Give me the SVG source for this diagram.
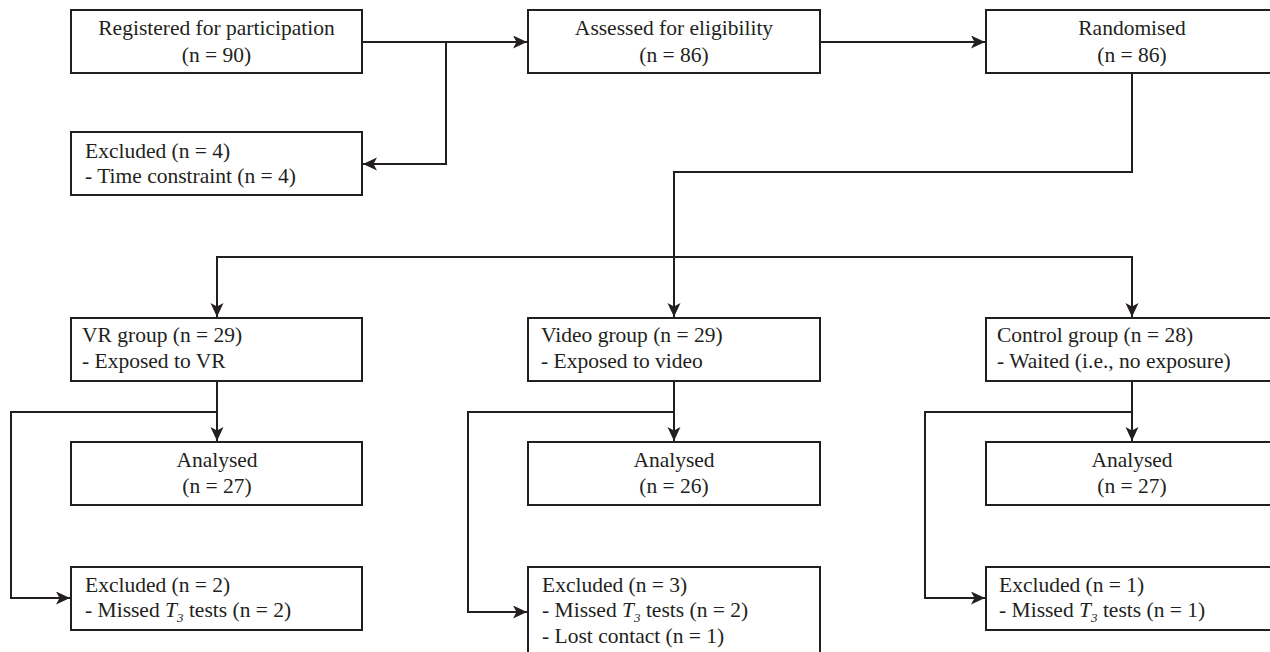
<svg xmlns="http://www.w3.org/2000/svg" width="1270" height="652" viewBox="0 0 1270 652">
<style>
  .box { fill: #ffffff; stroke: #231f20; stroke-width: 2; }
  .t { font-family: "Liberation Serif", "Times New Roman", serif; font-size: 21.5px; fill: #231f20; }
  .c { text-anchor: middle; }
  .conn { fill: none; stroke: #231f20; stroke-width: 2; }
  .sub { font-size: 13px; font-style: italic; }
</style>
<defs>
  <marker id="arr" markerUnits="userSpaceOnUse" markerWidth="16" markerHeight="14" refX="14" refY="6.5" orient="auto">
    <path d="M0,0 L14,6.5 L0,13 L3.5,6.5 Z" fill="#231f20"/>
  </marker>
</defs>
<rect width="1270" height="652" fill="#ffffff"/>

<g id="connectors">
  <path class="conn" d="M362,42 H527" marker-end="url(#arr)"/>
  <path class="conn" d="M446,42 V164 H363" marker-end="url(#arr)"/>
  <path class="conn" d="M820,42 H985" marker-end="url(#arr)"/>
  <path class="conn" d="M1132,73 V172 H674 V317" marker-end="url(#arr)"/>
  <path class="conn" d="M674,257 H217 V317" marker-end="url(#arr)"/>
  <path class="conn" d="M674,257 H1132 V317" marker-end="url(#arr)"/>
  <path class="conn" d="M217,381 V441" marker-end="url(#arr)"/>
  <path class="conn" d="M217,412 H11 V598 H70" marker-end="url(#arr)"/>
  <path class="conn" d="M674,381 V441" marker-end="url(#arr)"/>
  <path class="conn" d="M674,412 H468 V612 H527" marker-end="url(#arr)"/>
  <path class="conn" d="M1132,381 V441" marker-end="url(#arr)"/>
  <path class="conn" d="M1132,412 H925 V598 H985" marker-end="url(#arr)"/>
</g>

<g id="registered">
  <rect class="box" x="71" y="10" width="291" height="63"/>
  <text class="t c" x="216.5" y="35">Registered for participation</text>
  <text class="t c" x="216.5" y="62">(n = 90)</text>
</g>
<g id="assessed">
  <rect class="box" x="528" y="10" width="292" height="63"/>
  <text class="t c" x="674" y="35">Assessed for eligibility</text>
  <text class="t c" x="674" y="62">(n = 86)</text>
</g>
<g id="randomised">
  <rect class="box" x="986" y="10" width="292" height="63"/>
  <text class="t c" x="1132" y="35">Randomised</text>
  <text class="t c" x="1132" y="62">(n = 86)</text>
</g>
<g id="excluded-top">
  <rect class="box" x="71" y="132" width="291" height="63"/>
  <text class="t" x="85" y="158">Excluded (n = 4)</text>
  <text class="t" x="85" y="183">- Time constraint (n = 4)</text>
</g>

<g id="vr-group">
  <rect class="box" x="71" y="318" width="291" height="63"/>
  <text class="t" x="82" y="342">VR group (n = 29)</text>
  <text class="t" x="82" y="368">- Exposed to VR</text>
</g>
<g id="video-group">
  <rect class="box" x="528" y="318" width="292" height="63"/>
  <text class="t" x="541" y="342">Video group (n = 29)</text>
  <text class="t" x="541" y="368">- Exposed to video</text>
</g>
<g id="control-group">
  <rect class="box" x="986" y="318" width="292" height="63"/>
  <text class="t" x="997" y="342">Control group (n = 28)</text>
  <text class="t" x="997" y="368">- Waited (i.e., no exposure)</text>
</g>

<g id="vr-analysed">
  <rect class="box" x="71" y="442" width="291" height="63"/>
  <text class="t c" x="217" y="467">Analysed</text>
  <text class="t c" x="217" y="493">(n = 27)</text>
</g>
<g id="video-analysed">
  <rect class="box" x="528" y="442" width="292" height="63"/>
  <text class="t c" x="674" y="467">Analysed</text>
  <text class="t c" x="674" y="493">(n = 26)</text>
</g>
<g id="control-analysed">
  <rect class="box" x="986" y="442" width="292" height="63"/>
  <text class="t c" x="1132" y="467">Analysed</text>
  <text class="t c" x="1132" y="493">(n = 27)</text>
</g>

<g id="vr-excluded">
  <rect class="box" x="71" y="567" width="291" height="63"/>
  <text class="t" x="85" y="592">Excluded (n = 2)</text>
  <text class="t" x="85" y="617">- Missed <tspan font-style="italic">T</tspan><tspan class="sub" dy="5">3</tspan><tspan dy="-5"> tests (n = 2)</tspan></text>
</g>
<g id="video-excluded">
  <rect class="box" x="528" y="567" width="292" height="95"/>
  <text class="t" x="542" y="592">Excluded (n = 3)</text>
  <text class="t" x="542" y="617">- Missed <tspan font-style="italic">T</tspan><tspan class="sub" dy="5">3</tspan><tspan dy="-5"> tests (n = 2)</tspan></text>
  <text class="t" x="542" y="643">- Lost contact (n = 1)</text>
</g>
<g id="control-excluded">
  <rect class="box" x="986" y="567" width="292" height="63"/>
  <text class="t" x="999" y="592">Excluded (n = 1)</text>
  <text class="t" x="999" y="617">- Missed <tspan font-style="italic">T</tspan><tspan class="sub" dy="5">3</tspan><tspan dy="-5"> tests (n = 1)</tspan></text>
</g>
</svg>
